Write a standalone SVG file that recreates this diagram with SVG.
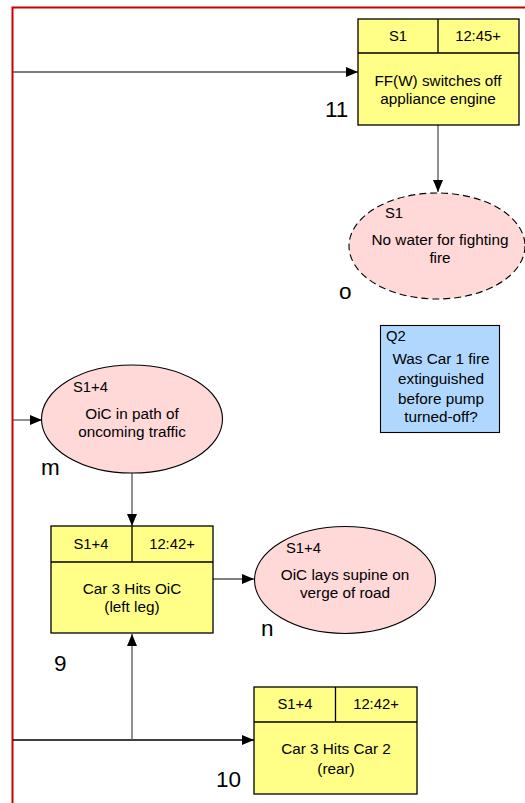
<svg xmlns="http://www.w3.org/2000/svg" width="525" height="803" viewBox="0 0 525 803">
<defs>
<marker id="ah" markerWidth="12" markerHeight="10" refX="12" refY="5" orient="auto" markerUnits="userSpaceOnUse">
<path d="M0,0 L12,5 L0,10 Z" fill="#000"/>
</marker>
<style>
.t{font-family:"Liberation Sans",Arial,sans-serif;font-size:15.3px;fill:#000;text-anchor:middle}
.h{font-family:"Liberation Sans",Arial,sans-serif;font-size:14.8px;fill:#000;text-anchor:middle}
.tl{font-family:"Liberation Sans",Arial,sans-serif;font-size:14.8px;fill:#000}
.lab{font-family:"Liberation Sans",Arial,sans-serif;font-size:22.5px;fill:#000}
.box{fill:#ffff88;stroke:#000;stroke-width:1.3}
.ell{fill:#ffd8d8;stroke:#000;stroke-width:1.1}
.q{fill:#b0d8ff;stroke:#000;stroke-width:1.1}
.c{fill:none;stroke:#555;stroke-width:1.3}
.cb{fill:none;stroke:#000;stroke-width:1.3}
</style>
</defs>
<rect width="525" height="803" fill="#fff"/>
<path d="M12.5,803 V7.5 H525" fill="none" stroke="#cc0000" stroke-width="2"/>

<g id="connectors">
<line class="c" x1="13" y1="72" x2="358" y2="72" marker-end="url(#ah)"/>
<line class="c" x1="438" y1="125" x2="438" y2="192" marker-end="url(#ah)"/>
<line class="c" x1="13" y1="420" x2="42" y2="420" marker-end="url(#ah)"/>
<line class="c" x1="132" y1="473" x2="132" y2="526" marker-end="url(#ah)"/>
<line class="c" x1="213" y1="579" x2="254" y2="579" marker-end="url(#ah)"/>
<line class="cb" x1="13" y1="740" x2="254" y2="740" marker-end="url(#ah)"/>
<line class="c" x1="132" y1="740" x2="132" y2="634" marker-end="url(#ah)"/>
</g>

<g id="node11">
<rect class="box" x="358" y="19" width="161" height="106"/>
<line x1="358" y1="53" x2="519" y2="53" stroke="#000" stroke-width="1.3"/>
<line x1="438" y1="19" x2="438" y2="53" stroke="#000" stroke-width="1.3"/>
<text class="h" x="398" y="41">S1</text>
<text class="h" x="478" y="41">12:45+</text>
<text class="t" x="438" y="86">FF(W) switches off</text>
<text class="t" x="438" y="104">appliance engine</text>
<text class="lab" x="325" y="117">11</text>
</g>

<g id="nodeO">
<ellipse class="ell" cx="437" cy="246" rx="88" ry="53" stroke-dasharray="7,4"/>
<text class="tl" x="385" y="218">S1</text>
<text class="t" x="440" y="245">No water for fighting</text>
<text class="t" x="440" y="263">fire</text>
<text class="lab" x="339" y="299">o</text>
</g>

<g id="nodeQ2">
<rect class="q" x="380.5" y="325.5" width="119" height="107"/>
<text class="tl" x="386" y="341">Q2</text>
<text class="t" x="441" y="364">Was Car 1 fire</text>
<text class="t" x="441" y="384">extinguished</text>
<text class="t" x="441" y="404">before pump</text>
<text class="t" x="441" y="422">turned-off?</text>
</g>

<g id="nodeM">
<ellipse class="ell" cx="132" cy="419" rx="90.5" ry="54"/>
<text class="tl" x="73" y="392">S1+4</text>
<text class="t" x="132" y="419">OiC in path of</text>
<text class="t" x="132" y="437">oncoming traffic</text>
<text class="lab" x="41" y="475">m</text>
</g>

<g id="node9">
<rect class="box" x="51" y="526" width="162" height="107"/>
<line x1="51" y1="562" x2="213" y2="562" stroke="#000" stroke-width="1.3"/>
<line x1="132" y1="526" x2="132" y2="562" stroke="#000" stroke-width="1.3"/>
<text class="h" x="91" y="549">S1+4</text>
<text class="h" x="172" y="549">12:42+</text>
<text class="t" x="132" y="594">Car 3 Hits OiC</text>
<text class="t" x="132" y="612">(left leg)</text>
<text class="lab" x="54" y="671">9</text>
</g>

<g id="nodeN">
<ellipse class="ell" cx="345" cy="580" rx="90.5" ry="53.5"/>
<text class="tl" x="286" y="553">S1+4</text>
<text class="t" x="345" y="580">OiC lays supine on</text>
<text class="t" x="345" y="598">verge of road</text>
<text class="lab" x="261" y="636">n</text>
</g>

<g id="node10">
<rect class="box" x="254" y="687" width="163" height="107"/>
<line x1="254" y1="722" x2="417" y2="722" stroke="#000" stroke-width="1.3"/>
<line x1="335.5" y1="687" x2="335.5" y2="722" stroke="#000" stroke-width="1.3"/>
<text class="h" x="295" y="709">S1+4</text>
<text class="h" x="376" y="709">12:42+</text>
<text class="t" x="336" y="754">Car 3 Hits Car 2</text>
<text class="t" x="336" y="774">(rear)</text>
<text class="lab" x="216" y="787">10</text>
</g>
</svg>
